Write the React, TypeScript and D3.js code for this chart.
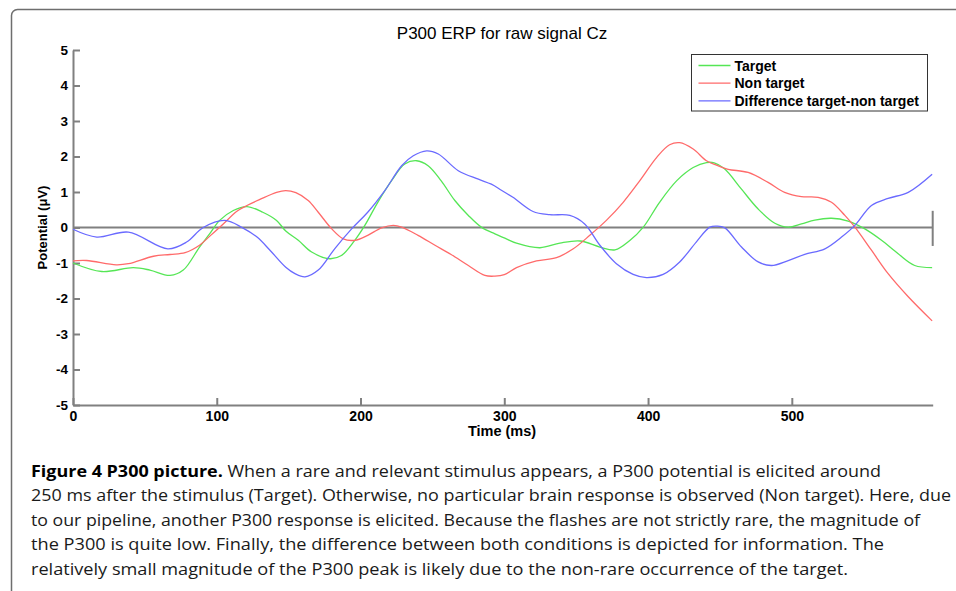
import { useEffect, useRef } from "react";
import * as d3 from "d3";

const W = 956;
const H = 591;

// Values (time in ms, potential in µV)
const targetTime = [0, 20, 42, 53.5, 67.5, 76.7, 88, 95, 102, 111.5, 121, 132, 141.6, 148, 156.7, 166, 178.6, 186.7, 196, 203, 212, 221.6, 230.8, 239, 247, 256, 265.6, 275, 284, 293.5, 300.4, 308.5, 324.8, 338.7, 352.7, 366.5, 377, 387.5, 396.7, 408, 420, 431.4, 440.6, 446, 453, 465, 476.6, 488.2, 497.5, 506.7, 516, 527.6, 539.2, 550.8, 562.4, 574, 585.5, 597.6];
const targetValue = [-1.0, -1.24, -1.13, -1.2, -1.35, -1.2, -0.55, -0.18, 0.2, 0.48, 0.59, 0.43, 0.2, -0.1, -0.36, -0.69, -0.88, -0.79, -0.36, 0.06, 0.71, 1.32, 1.79, 1.88, 1.74, 1.32, 0.76, 0.34, 0.01, -0.18, -0.3, -0.44, -0.57, -0.44, -0.38, -0.55, -0.63, -0.36, 0.01, 0.71, 1.32, 1.69, 1.83, 1.82, 1.66, 1.08, 0.52, 0.12, 0.01, 0.1, 0.21, 0.26, 0.18, -0.04, -0.36, -0.74, -1.07, -1.13];

const nonTargetTime = [0, 9.5, 30, 38.5, 56, 67.5, 78, 88, 95, 104.5, 114, 121, 130, 141.6, 148, 155, 163.6, 170.6, 180, 188, 196, 205, 214.7, 222.8, 228.6, 240, 251.8, 263, 275, 286.5, 293.5, 300, 308.5, 322.4, 336.3, 348, 359.5, 371, 382.7, 394.3, 405.9, 415, 422, 431.4, 440.6, 448, 455.7, 469.6, 483.5, 495, 506.7, 518.3, 527.6, 536.9, 543.9, 555.4, 567, 581, 597.6];
const nonTargetValue = [-0.94, -0.93, -1.05, -1.02, -0.81, -0.76, -0.71, -0.5, -0.25, 0.1, 0.46, 0.62, 0.79, 0.99, 1.04, 0.98, 0.76, 0.43, -0.04, -0.32, -0.36, -0.22, -0.01, 0.06, 0.01, -0.22, -0.5, -0.76, -1.07, -1.35, -1.37, -1.33, -1.13, -0.94, -0.85, -0.6, -0.22, 0.2, 0.71, 1.32, 1.97, 2.33, 2.39, 2.21, 1.88, 1.75, 1.64, 1.55, 1.27, 0.99, 0.87, 0.85, 0.71, 0.34, 0.01, -0.64, -1.3, -1.95, -2.63];

const diffTime = [0, 16.5, 38.5, 66, 79, 90.6, 105.7, 118, 128, 137, 148, 154.4, 161.4, 170.6, 182, 193.8, 205, 216.9, 228.6, 236.7, 246, 254.1, 268, 282, 291, 298, 306, 320, 331.6, 345.6, 355.9, 366.5, 378, 389.6, 398.9, 410.5, 422, 433.5, 443, 448, 453.4, 465, 476.6, 485.9, 497.5, 509, 523, 534.6, 543.9, 555.4, 567, 581, 597.6];
const diffValue = [-0.05, -0.27, -0.13, -0.6, -0.41, 0.0, 0.2, -0.01, -0.27, -0.64, -1.12, -1.3, -1.39, -1.2, -0.6, -0.04, 0.43, 1.04, 1.74, 2.02, 2.16, 2.07, 1.6, 1.36, 1.22, 1.05, 0.85, 0.45, 0.36, 0.34, 0.1, -0.5, -1.02, -1.32, -1.41, -1.32, -0.97, -0.41, 0.01, 0.04, -0.01, -0.55, -0.97, -1.07, -0.93, -0.76, -0.6, -0.27, 0.06, 0.62, 0.82, 0.99, 1.5];

const seriesNames = ["Target", "Non target", "Difference target-non target"];
const seriesColors = ["#55e655", "#ff6a6a", "#6a6aff"];

const xTicks = [0, 100, 200, 300, 400, 500];
const yTicks = [5, 4, 3, 2, 1, 0, -1, -2, -3, -4, -5];

const captionBold = "Figure 4 P300 picture.";
const captionLines = [
  " When a rare and relevant stimulus appears, a P300 potential is elicited around",
  "250 ms after the stimulus (Target). Otherwise, no particular brain response is observed (Non target). Here, due",
  "to our pipeline, another P300 response is elicited. Because the flashes are not strictly rare, the magnitude of",
  "the P300 is quite low. Finally, the difference between both conditions is depicted for information. The",
  "relatively small magnitude of the P300 peak is likely due to the non-rare occurrence of the target.",
];
const captionWidths = [850, 920, 889, 853, 817];

export default function App() {
  const svgRef = useRef<SVGSVGElement>(null);

  useEffect(() => {
    if (!svgRef.current) return;
    const svg = d3.select(svgRef.current);
    svg.selectAll("*").remove();

    const font = "'Liberation Sans', Arial, sans-serif";
    const axisColor = "#808080";

    // outer panel frame
    svg.append("rect")
      .attr("x", 11.5).attr("y", 9.5)
      .attr("width", 1000).attr("height", 700)
      .attr("rx", 6)
      .attr("fill", "none")
      .attr("stroke", "#6e6e6e")
      .attr("stroke-width", 1.5);

    const x = d3.scaleLinear().domain([0, 598]).range([73, 932.7]);
    const y = d3.scaleLinear().domain([-5, 5]).range([405, 50]);

    // title
    svg.append("text")
      .attr("x", 502).attr("y", 39)
      .attr("text-anchor", "middle")
      .attr("font-family", font)
      .attr("font-size", 17)
      .attr("fill", "#000")
      .text("P300 ERP for raw signal Cz");

    // zero line + end marker
    svg.append("line")
      .attr("x1", x(0)).attr("x2", x(598))
      .attr("y1", y(0)).attr("y2", y(0))
      .attr("stroke", axisColor).attr("stroke-width", 2);
    svg.append("line")
      .attr("x1", x(598)).attr("x2", x(598))
      .attr("y1", y(0.47)).attr("y2", y(-0.52))
      .attr("stroke", axisColor).attr("stroke-width", 2);

    // axes
    svg.append("g")
      .attr("transform", `translate(${x(0)},0)`)
      .call(d3.axisLeft(y).tickValues(yTicks).tickFormat((d) => String(d)).tickSizeInner(-7).tickSizeOuter(0).tickPadding(5))
      .call((a) => a.select(".domain").attr("stroke", axisColor).attr("stroke-width", 2))
      .call((a) => a.selectAll("line").attr("stroke", axisColor).attr("stroke-width", 2))
      .call((a) => a.selectAll("text")
        .attr("font-family", font).attr("font-size", 13.5).attr("font-weight", "bold").attr("fill", "#000"));

    svg.append("g")
      .attr("transform", `translate(0,${y(-5)})`)
      .call(d3.axisBottom(x).tickValues(xTicks).tickFormat((d) => String(d)).tickSizeInner(-7).tickSizeOuter(0).tickPadding(6))
      .call((a) => a.select(".domain").attr("stroke", axisColor).attr("stroke-width", 2))
      .call((a) => a.selectAll("line").attr("stroke", axisColor).attr("stroke-width", 2))
      .call((a) => a.selectAll("text")
        .attr("font-family", font).attr("font-size", 14).attr("font-weight", "bold").attr("fill", "#000"));

    svg.append("text")
      .attr("x", 502).attr("y", 436)
      .attr("text-anchor", "middle")
      .attr("font-family", font).attr("font-size", 14.5).attr("font-weight", "bold")
      .text("Time (ms)");

    svg.append("text")
      .attr("transform", `translate(47,${y(0)}) rotate(-90)`)
      .attr("text-anchor", "middle")
      .attr("font-family", font).attr("font-size", 13).attr("font-weight", "bold")
      .text("Potential (μV)");

    // curves
    const series = [
      { t: targetTime, v: targetValue },
      { t: nonTargetTime, v: nonTargetValue },
      { t: diffTime, v: diffValue },
    ];
    const line = d3.line<[number, number]>()
      .x((d) => x(d[0]))
      .y((d) => y(d[1]))
      .curve(d3.curveCatmullRom.alpha(0.5));

    series.forEach((s, i) => {
      const pts = s.t.map((t, j) => [t, s.v[j]] as [number, number]);
      svg.append("path")
        .attr("d", line(pts))
        .attr("fill", "none")
        .attr("stroke", seriesColors[i])
        .attr("stroke-width", 1.3);
    });

    // legend
    const lg = svg.append("g");
    lg.append("rect")
      .attr("x", 691.5).attr("y", 54.5)
      .attr("width", 236).attr("height", 56.5)
      .attr("fill", "#fff")
      .attr("stroke", "#333").attr("stroke-width", 1);
    seriesNames.forEach((name, i) => {
      const cy = 65.5 + i * 17.7;
      lg.append("line")
        .attr("x1", 698.5).attr("x2", 730.5)
        .attr("y1", cy).attr("y2", cy)
        .attr("stroke", seriesColors[i]).attr("stroke-width", 1.3);
      lg.append("text")
        .attr("x", 734.5).attr("y", cy + 5)
        .attr("font-family", font).attr("font-size", 14).attr("font-weight", "bold")
        .text(name);
    });

    // caption
    const capFont = "'Open Sans', 'Noto Sans', sans-serif";
    captionLines.forEach((ln, i) => {
      const t = svg.append("text")
        .attr("x", 31).attr("y", 476.5 + i * 24.5)
        .attr("font-family", capFont)
        .attr("font-size", 16.5)
        .attr("fill", "#1a1a1a")
        .attr("textLength", captionWidths[i])
        .attr("lengthAdjust", "spacingAndGlyphs");
      if (i === 0) {
        t.append("tspan").attr("font-weight", "bold").attr("fill", "#000").text(captionBold);
      }
      t.append("tspan").text(ln);
    });
  }, []);

  return (
    <svg
      ref={svgRef}
      width={W}
      height={H}
      style={{ position: "absolute", left: 0, top: 0, background: "#fff", display: "block" }}
    />
  );
}
